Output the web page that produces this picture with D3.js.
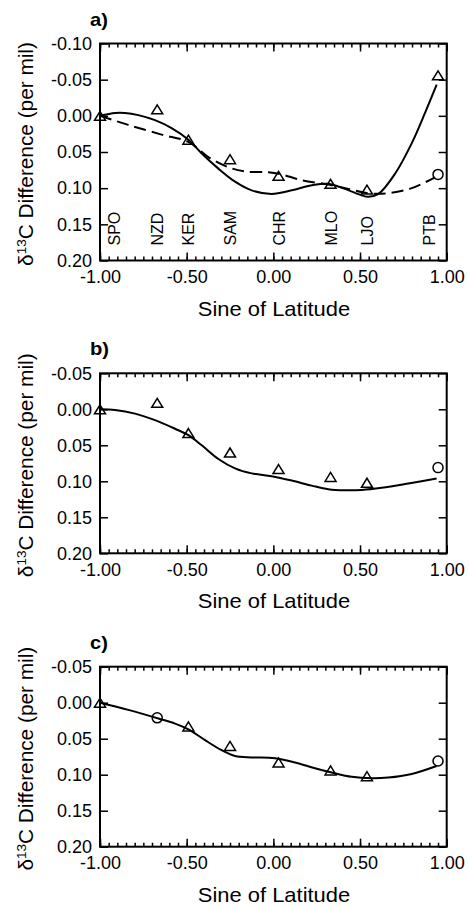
<!DOCTYPE html>
<html>
<head>
<meta charset="utf-8">
<script src="https://cdn.jsdelivr.net/npm/d3@7"></script>
<style>
  body { margin: 0; background: #fff; }
  text { font-family: "Liberation Sans", Arial, Helvetica, sans-serif; fill: #000; }
</style>
</head>
<body>
<svg id="chart" width="469" height="908"></svg>
<script>
// stations and sine of latitude
const stations = ["SPO", "NZD", "KER", "SAM", "CHR", "MLO", "LJO", "PTB"];
const sinLat = [-1.00, -0.67, -0.49, -0.25, 0.03, 0.33, 0.54, 0.95];
// observed d13C difference (triangles)
const observed = [0.000, -0.009, 0.033, 0.060, 0.083, 0.094, 0.102, -0.056];
// adjusted values (circles)
const nzdAdjusted = 0.021;
const ptbAdjusted = 0.081;

// panel a, solid fit
const fitASolidX = [-1.00, -0.913, -0.856, -0.779, -0.683, -0.587, -0.49, -0.413, -0.317, -0.221, -0.125, -0.01, 0.106, 0.221, 0.317, 0.413, 0.51, 0.548, 0.606, 0.702, 0.798, 0.875, 0.942];
const fitASolidY = [0.000, -0.004, -0.004, -0.001, 0.006, 0.017, 0.033, 0.052, 0.073, 0.091, 0.103, 0.108, 0.103, 0.096, 0.094, 0.101, 0.110, 0.112, 0.108, 0.080, 0.038, -0.004, -0.043];
// panel a, dashed fit
const fitADashX = [-1.00, -0.837, -0.644, -0.49, -0.375, -0.26, -0.163, -0.029, 0.048, 0.163, 0.317, 0.433, 0.548, 0.663, 0.798, 0.933];
const fitADashY = [0.000, 0.0125, 0.026, 0.036, 0.057, 0.071, 0.077, 0.078, 0.081, 0.089, 0.095, 0.101, 0.107, 0.107, 0.100, 0.085];
// panel b fit
const fitBX = [-1.00, -0.913, -0.798, -0.683, -0.567, -0.49, -0.413, -0.317, -0.221, -0.125, -0.01, 0.106, 0.221, 0.317, 0.413, 0.51, 0.625, 0.779, 0.942];
const fitBY = [0.000, 0.001, 0.006, 0.015, 0.027, 0.036, 0.050, 0.069, 0.082, 0.089, 0.093, 0.099, 0.106, 0.111, 0.1125, 0.112, 0.109, 0.103, 0.096];
// panel c fit
const fitCX = [-1.00, -0.837, -0.663, -0.567, -0.49, -0.394, -0.298, -0.221, -0.125, 0.010, 0.125, 0.240, 0.337, 0.452, 0.567, 0.663, 0.798, 0.942];
const fitCY = [0.000, 0.010, 0.022, 0.029, 0.037, 0.052, 0.066, 0.074, 0.076, 0.077, 0.083, 0.091, 0.097, 0.103, 0.105, 0.104, 0.099, 0.088];

// ticks
const xTicks = [-1.00, -0.50, 0.00, 0.50, 1.00];
const xMinorTicks = d3.range(0, 41).map(i => -1 + i * 0.05);
const yTicksA = [-0.10, -0.05, 0.00, 0.05, 0.10, 0.15, 0.20];
const yTicksBC = [-0.05, 0.00, 0.05, 0.10, 0.15, 0.20];

const svg = d3.select("#chart");
const fmt = d3.formatLocale({decimal: ".", thousands: ",", grouping: [3], currency: ["", ""], minus: "-"}).format(".2f");
const x = d3.scaleLinear().domain([-1, 1]).range([100, 446.7]);
const tri = "M0,-4.5L5.5,4.5L-5.5,4.5Z";
const zip = (xs, ys) => xs.map((v, i) => [v, ys[i]]);

function drawPanel(p) {
  const g = svg.append("g");
  const y = d3.scaleLinear().domain(p.domain).range([p.top, p.bottom]);
  const line = d3.line().x(d => x(d[0])).y(d => y(d[1])).curve(d3.curveCatmullRom.alpha(0.5));

  const axes = [
    [d3.axisBottom(x).tickValues(xTicks).tickSize(-8).tickPadding(10).tickFormat(fmt), `translate(0,${p.bottom})`],
    [d3.axisBottom(x).tickValues(xMinorTicks).tickSize(-4).tickFormat(""), `translate(0,${p.bottom})`],
    [d3.axisTop(x).tickValues(xTicks).tickSize(-8).tickFormat(""), `translate(0,${p.top})`],
    [d3.axisTop(x).tickValues(xMinorTicks).tickSize(-4).tickFormat(""), `translate(0,${p.top})`],
    [d3.axisLeft(y).tickValues(p.yTicks).tickSize(-8).tickPadding(8).tickFormat(fmt), `translate(100,0)`],
    [d3.axisRight(y).tickValues(p.yTicks).tickSize(-8).tickFormat(""), `translate(446.7,0)`]
  ];
  axes.forEach(([ax, tr]) => {
    const a = g.append("g").attr("transform", tr).call(ax)
      .attr("font-size", null).attr("font-family", null);
    a.select(".domain").remove();
    a.selectAll(".tick line").attr("stroke", "#000").attr("stroke-width", 1.5);
    a.selectAll(".tick text").style("font-size", "18px");
  });

  g.append("rect")
    .attr("x", 100).attr("y", p.top)
    .attr("width", 346.7).attr("height", p.bottom - p.top)
    .attr("fill", "none").attr("stroke", "#000").attr("stroke-width", 2);

  p.lines.forEach(l => {
    g.append("path").datum(l.pts)
      .attr("d", line)
      .attr("fill", "none").attr("stroke", "#000").attr("stroke-width", 2)
      .attr("stroke-dasharray", l.dash || null);
  });

  g.selectAll(".tri").data(p.tris).join("path")
    .attr("d", tri)
    .attr("transform", d => `translate(${x(d[0])},${y(d[1])})`)
    .attr("fill", "none").attr("stroke", "#000").attr("stroke-width", 1.5);

  g.selectAll(".circ").data(p.circles).join("circle")
    .attr("cx", d => x(d[0])).attr("cy", d => y(d[1])).attr("r", 5)
    .attr("fill", "none").attr("stroke", "#000").attr("stroke-width", 1.5);

  if (p.labels) {
    stations.forEach((s, i) => {
      const cx = Math.max(114, Math.min(429, x(sinLat[i])));
      g.append("text")
        .attr("transform", `translate(${cx + 6},${p.bottom - 15}) rotate(-90)`)
        .style("font-size", "16px")
        .text(s);
    });
  }

  // panel letter
  g.append("text")
    .attr("transform", `translate(90,${p.top - 18}) scale(1.12,1)`)
    .style("font-size", "18px").style("font-weight", "bold")
    .text(p.name);

  // x title
  g.append("text")
    .attr("transform", `translate(274,${p.bottom + 55}) scale(1.07,1)`)
    .attr("text-anchor", "middle")
    .style("font-size", "20.5px")
    .text("Sine of Latitude");

  // y title
  const yt = g.append("text")
    .attr("transform", `translate(33,${(p.top + p.bottom) / 2 + 2}) rotate(-90) scale(1.04,1)`)
    .attr("text-anchor", "middle")
    .style("font-size", "20px");
  yt.append("tspan").text("δ");
  yt.append("tspan").attr("dy", -7).style("font-size", "13px").text("13");
  yt.append("tspan").attr("dy", 7).text("C Difference (per mil)");
}

const stationPts = sinLat.map((v, i) => [v, observed[i]]);

drawPanel({
  name: "a)", top: 43.5, bottom: 260.5, domain: [-0.10, 0.20], yTicks: yTicksA, labels: true,
  lines: [{pts: zip(fitASolidX, fitASolidY)}, {pts: zip(fitADashX, fitADashY), dash: "12,6"}],
  tris: stationPts,
  circles: [[sinLat[7], ptbAdjusted]]
});
drawPanel({
  name: "b)", top: 373.3, bottom: 553.3, domain: [-0.05, 0.20], yTicks: yTicksBC,
  lines: [{pts: zip(fitBX, fitBY)}],
  tris: stationPts.slice(0, 7),
  circles: [[sinLat[7], ptbAdjusted]]
});
drawPanel({
  name: "c)", top: 666.7, bottom: 846.7, domain: [-0.05, 0.20], yTicks: yTicksBC,
  lines: [{pts: zip(fitCX, fitCY)}],
  tris: stationPts.filter((d, i) => i !== 1 && i !== 7),
  circles: [[sinLat[1], nzdAdjusted], [sinLat[7], ptbAdjusted]]
});
</script>
</body>
</html>
